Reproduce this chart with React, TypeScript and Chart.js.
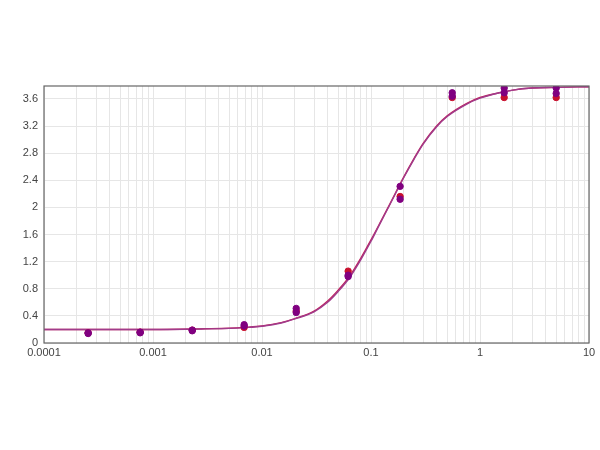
import React, { useEffect, useRef } from "react";
import { Chart, registerables } from "chart.js";

Chart.register(...registerables);

// Concentrations (3-fold dilution series)
const concentrations = [0.000254, 0.000762, 0.00229, 0.00686, 0.0206, 0.0617, 0.185, 0.556, 1.667, 5];
// Replicate readings
const purpleRep1 = [0.15, 0.16, 0.19, 0.27, 0.51, 1.0, 2.31, 3.69, 3.76, 3.76];
const purpleRep2 = [0.14, 0.15, 0.18, 0.25, 0.45, 0.98, 2.12, 3.64, 3.69, 3.68];
const redRep = [0.15, 0.16, 0.19, 0.23, 0.47, 1.06, 2.16, 3.62, 3.62, 3.62];

// Fitted curves
const curveX = [0.0001, 0.0003, 0.001, 0.003, 0.005, 0.007, 0.01, 0.015, 0.02, 0.03, 0.04, 0.05, 0.064, 0.08, 0.1, 0.12, 0.15, 0.2, 0.25, 0.3, 0.4, 0.5, 0.75, 1, 1.5, 2, 3, 5, 10];
const curveRed = [0.2, 0.2, 0.2, 0.21, 0.217, 0.23, 0.25, 0.3, 0.36, 0.47, 0.62, 0.78, 0.99, 1.24, 1.52, 1.76, 2.06, 2.45, 2.73, 2.94, 3.2, 3.35, 3.53, 3.62, 3.69, 3.73, 3.76, 3.77, 3.78];
const curvePurple = [0.2, 0.2, 0.2, 0.208, 0.215, 0.227, 0.247, 0.295, 0.355, 0.46, 0.6, 0.76, 0.97, 1.22, 1.5, 1.75, 2.05, 2.44, 2.72, 2.93, 3.19, 3.34, 3.52, 3.61, 3.69, 3.73, 3.76, 3.77, 3.78];

// Axis ticks
const yTicks = [0, 0.4, 0.8, 1.2, 1.6, 2, 2.4, 2.8, 3.2, 3.6];
const decades = [0.0001, 0.001, 0.01, 0.1, 1, 10];
const decadeLabels = ["0.0001", "0.001", "0.01", "0.1", "1", "10"];
const minorMultipliers = [1, 2, 3, 4, 5, 6, 7, 8, 9];

const PURPLE = "#800080";
const RED = "#c8102e";

const frame = {
  id: "frame",
  afterDatasetsDraw(chart: any) {
    const { ctx, chartArea } = chart;
    ctx.save();
    ctx.strokeStyle = "#666666";
    ctx.lineWidth = 1.2;
    ctx.strokeRect(chartArea.left, chartArea.top, chartArea.right - chartArea.left, chartArea.bottom - chartArea.top);
    ctx.restore();
  },
};

export default function App() {
  const ref = useRef<HTMLCanvasElement>(null);
  useEffect(() => {
    if (!ref.current) return;
    const pts = (ys: number[]) => concentrations.map((x, i) => ({ x, y: ys[i] }));
    const curve = (ys: number[]) => curveX.map((x, i) => ({ x, y: ys[i] }));
    const chart = new Chart(ref.current, {
      type: "scatter",
      data: {
        datasets: [
          { data: pts(purpleRep1), backgroundColor: PURPLE, borderColor: PURPLE, pointRadius: 3.2, order: 1 },
          { data: pts(purpleRep2), backgroundColor: PURPLE, borderColor: PURPLE, pointRadius: 3.2, order: 2 },
          { data: pts(redRep), backgroundColor: RED, borderColor: RED, pointRadius: 3.2, order: 3 },
          { data: curve(curvePurple), showLine: true, borderColor: "#a03c8c", borderWidth: 1.4, pointRadius: 0, cubicInterpolationMode: "monotone", order: 4 } as any,
          { data: curve(curveRed), showLine: true, borderColor: "#c0205a", borderWidth: 1.4, pointRadius: 0, cubicInterpolationMode: "monotone", order: 5 } as any,
        ],
      },
      options: {
        responsive: false,
        animation: false,
        layout: { padding: { top: 86, right: 11, left: 0, bottom: 0 } },
        plugins: { legend: { display: false }, tooltip: { enabled: false } },
        scales: {
          x: {
            type: "logarithmic",
            min: 0.0001,
            max: 10,
            afterBuildTicks(scale: any) {
              const t: any[] = [];
              decades.forEach((d, i) => {
                if (i === decades.length - 1) {
                  t.push({ value: d });
                } else {
                  minorMultipliers.forEach((m) => t.push({ value: d * m }));
                }
              });
              scale.ticks = t;
            },
            afterFit(scale: any) {
              scale.height = 450 - 343;
            },
            ticks: {
              autoSkip: false,
              maxRotation: 0,
              padding: 3,
              color: "#444",
              font: { family: "Liberation Sans, Arial", size: 11 },
              callback(value: any) {
                const idx = decades.findIndex((d) => Math.abs(d - value) / d < 1e-6);
                return idx >= 0 ? decadeLabels[idx] : "";
              },
            },
            grid: { color: "#e6e6e6", lineWidth: 1, drawTicks: false },
            border: { display: false },
          },
          y: {
            min: 0,
            max: 3.79,
            afterBuildTicks(scale: any) {
              scale.ticks = yTicks.map((v) => ({ value: v }));
            },
            afterFit(scale: any) {
              scale.width = 44;
            },
            ticks: {
              padding: 6,
              color: "#444",
              font: { family: "Liberation Sans, Arial", size: 11 },
              callback(value: any) {
                return String(Math.round(value * 10) / 10);
              },
            },
            grid: { color: "#e6e6e6", lineWidth: 1, drawTicks: false },
            border: { display: false },
          },
        },
      },
      plugins: [frame],
    });
    return () => chart.destroy();
  }, []);
  return (
    <div style={{ position: "absolute", left: 0, top: 0, width: 600, height: 450, background: "#fff" }}>
      <canvas ref={ref} width={600} height={450} />
    </div>
  );
}
